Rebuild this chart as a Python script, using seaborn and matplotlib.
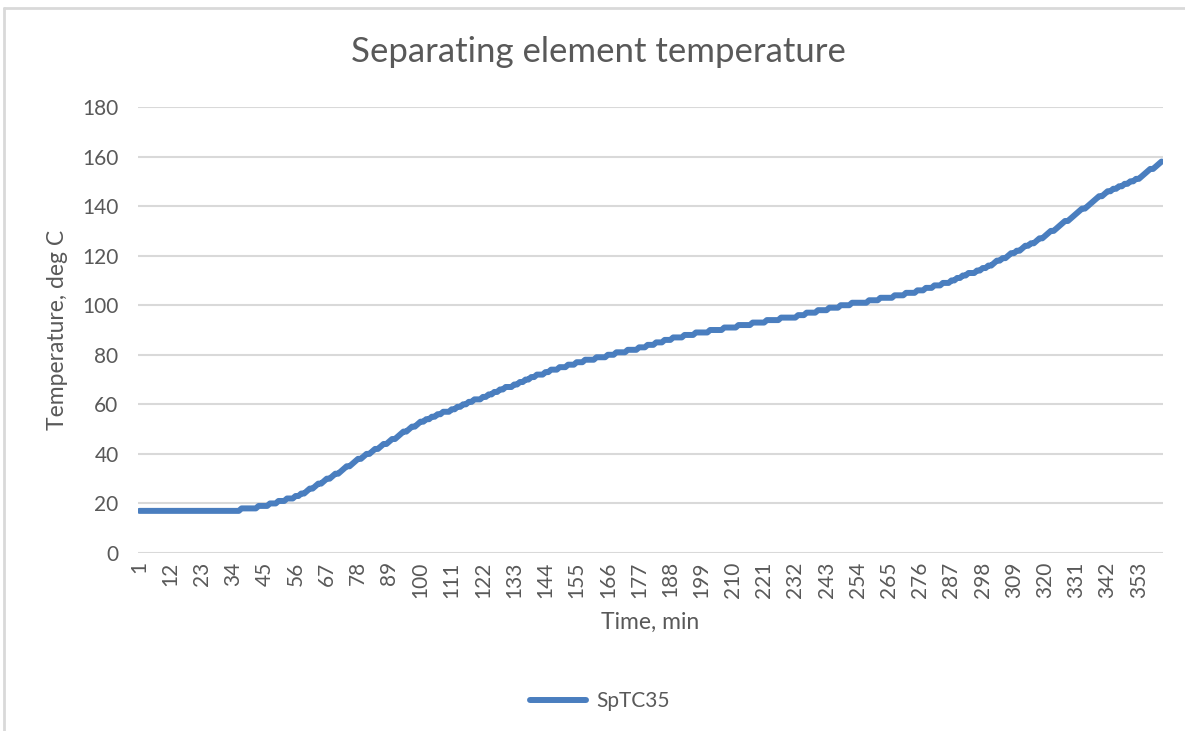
import numpy as np
import pandas as pd
import matplotlib
matplotlib.use("Agg")
import matplotlib.pyplot as plt
import seaborn as sns
from matplotlib.lines import Line2D

# ─────────────────────────────────────────────
# Data (one row per 11 minutes)
# ─────────────────────────────────────────────
temps = [
    17, 17, 17, 17, 17, 17, 17, 17, 17, 17, 17,            # 1-11
    17, 17, 17, 17, 17, 17, 17, 17, 17, 17, 17,            # 12-22
    17, 17, 17, 17, 17, 17, 17, 17, 17, 17, 17,            # 23-33
    17, 17, 17, 18, 18, 18, 18, 18, 18, 19, 19,            # 34-44
    19, 19, 20, 20, 20, 21, 21, 21, 22, 22, 22,            # 45-55
    23, 23, 24, 24, 25, 26, 26, 27, 28, 28, 29,            # 56-66
    30, 30, 31, 32, 32, 33, 34, 35, 35, 36, 37,            # 67-77
    38, 38, 39, 40, 40, 41, 42, 42, 43, 44, 44,            # 78-88
    45, 46, 46, 47, 48, 49, 49, 50, 51, 51, 52,            # 89-99
    53, 53, 54, 54, 55, 55, 56, 56, 57, 57, 57,            # 100-110
    58, 58, 59, 59, 60, 60, 61, 61, 62, 62, 62,            # 111-121
    63, 63, 64, 64, 65, 65, 66, 66, 67, 67, 67,            # 122-132
    68, 68, 69, 69, 70, 70, 71, 71, 72, 72, 72,            # 133-143
    73, 73, 74, 74, 74, 75, 75, 75, 76, 76, 76,            # 144-154
    77, 77, 77, 78, 78, 78, 78, 79, 79, 79, 79,            # 155-165
    80, 80, 80, 81, 81, 81, 81, 82, 82, 82, 82,            # 166-176
    83, 83, 83, 84, 84, 84, 85, 85, 85, 86, 86,            # 177-187
    86, 87, 87, 87, 87, 88, 88, 88, 88, 89, 89,            # 188-198
    89, 89, 89, 90, 90, 90, 90, 90, 91, 91, 91,            # 199-209
    91, 91, 92, 92, 92, 92, 92, 93, 93, 93, 93,            # 210-220
    93, 94, 94, 94, 94, 94, 95, 95, 95, 95, 95,            # 221-231
    95, 96, 96, 96, 97, 97, 97, 97, 98, 98, 98,            # 232-242
    98, 99, 99, 99, 99, 100, 100, 100, 100, 101, 101,      # 243-253
    101, 101, 101, 101, 102, 102, 102, 102, 103, 103, 103, # 254-264
    103, 103, 104, 104, 104, 104, 105, 105, 105, 105, 106, # 265-275
    106, 106, 107, 107, 107, 108, 108, 108, 109, 109, 109, # 276-286
    110, 110, 111, 111, 112, 112, 113, 113, 113, 114, 114, # 287-297
    115, 115, 116, 116, 117, 118, 118, 119, 119, 120, 121, # 298-308
    121, 122, 122, 123, 124, 124, 125, 125, 126, 127, 127, # 309-319
    128, 129, 130, 130, 131, 132, 133, 134, 134, 135, 136, # 320-330
    137, 138, 139, 139, 140, 141, 142, 143, 144, 144, 145, # 331-341
    146, 146, 147, 147, 148, 148, 149, 149, 150, 150, 151, # 342-352
    151, 152, 153, 154, 155, 155, 156, 157, 158,           # 353-361
]
minutes = list(range(1, len(temps) + 1))
tick_minutes = list(range(1, 354, 11))
y_ticks = [0, 20, 40, 60, 80, 100, 120, 140, 160, 180]

df = pd.DataFrame({"Time": minutes, "SpTC35": temps})

# ─────────────────────────────────────────────
# Style
# ─────────────────────────────────────────────
sns.set_theme(style="white")
plt.rcParams["font.family"] = ["Lato", "DejaVu Sans"]

LINE_C = "#4A7EBF"
GRID_C = "#D9D9D9"
TEXT_C = "#595959"
LW = 4.3

fig = plt.figure(figsize=(11.85, 7.31), dpi=100)
ax = fig.add_axes([138 / 1185, 1 - 553 / 731, (1163 - 138) / 1185, (553 - 107) / 731])

sns.lineplot(data=df, x="Time", y="SpTC35", ax=ax, color=LINE_C, linewidth=LW,
             solid_capstyle="round", solid_joinstyle="round", label="SpTC35", legend=False)

ax.set_xlim(0.5, len(temps) + 0.5)
ax.set_ylim(0, 180)
ax.set_yticks(y_ticks)
ax.set_yticklabels([str(v) for v in y_ticks], fontsize=15, color=TEXT_C)
ax.set_xticks(tick_minutes)
ax.set_xticklabels([str(m) for m in tick_minutes], rotation=90, fontsize=15, color=TEXT_C)
ax.tick_params(axis="both", length=0, pad=6)
ax.tick_params(axis="y", pad=14)

ax.yaxis.grid(True, color=GRID_C, linewidth=1.5)
ax.xaxis.grid(False)
ax.set_axisbelow(True)
for s in ax.spines.values():
    s.set_visible(False)

ax.set_xlabel("Time, min", fontsize=16.5, color=TEXT_C, labelpad=10)
ax.set_ylabel("Temperature, deg C", fontsize=16.5, color=TEXT_C, labelpad=10)

fig.text(598 / 1185, 1 - 52 / 731, "Separating element temperature", ha="center", va="center",
         fontsize=25, color=TEXT_C)

# legend at bottom
handle = Line2D([0], [0], color=LINE_C, linewidth=LW, solid_capstyle="round")
fig.legend([handle], ["SpTC35"], loc="center", bbox_to_anchor=(600 / 1185, 1 - 701 / 731),
           frameon=False, fontsize=15, labelcolor=TEXT_C, handlelength=2.7, handletextpad=0.5)

# chart area border (top + left visible in reference)
fig.add_artist(Line2D([4 / 1185, 1], [1 - 8 / 731, 1 - 8 / 731], color=GRID_C, linewidth=2,
                      transform=fig.transFigure))
fig.add_artist(Line2D([4 / 1185, 4 / 1185], [1 - 8 / 731, 0], color=GRID_C, linewidth=2,
                      transform=fig.transFigure))

plt.savefig("out.png", dpi=100)
